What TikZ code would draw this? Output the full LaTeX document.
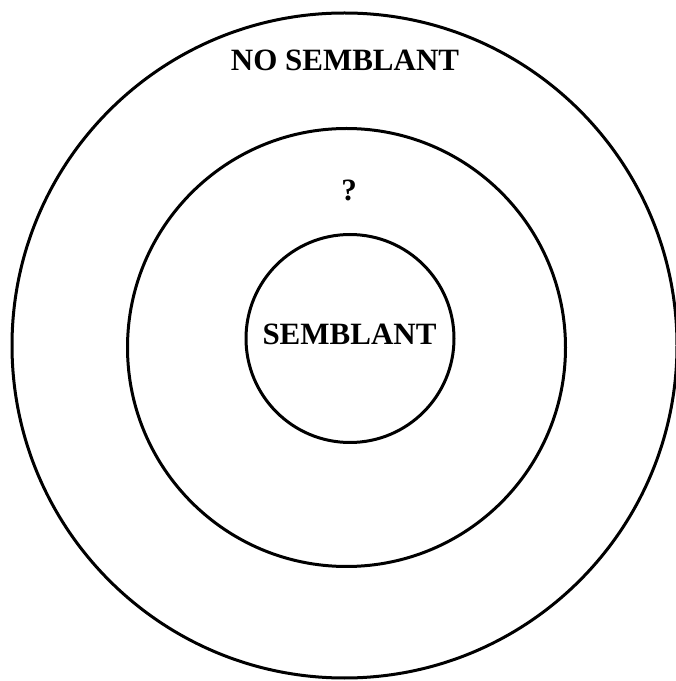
\documentclass[tikz,border=0pt]{standalone}
\usepackage{fontspec}
\setmainfont{Liberation Serif}
\begin{document}
\begin{tikzpicture}[x=1pt,y=1pt,
  ring/.style={circle,draw=black,line width=3pt,inner sep=0pt,outer sep=0pt},
  lbl/.style={font=\fontsize{31}{36}\selectfont\bfseries,inner sep=0pt,anchor=base}]
\useasboundingbox (0,0) rectangle (676,681);
\fill[white] (0,0) rectangle (676,681);
\node[ring,minimum size=665pt] (outer) at (344.5,335.5) {};
\node[ring,minimum size=438pt] (middle) at (346.5,333.5) {};
\node[ring,minimum size=208pt] (inner) at (350,342.5) {};
\node[lbl] (nosem) at (345,610.3) {NO SEMBLANT};
\node[lbl] (q) at (349,480) {?};
\node[lbl] (sem) at (349.5,336) {SEMBLANT};
\end{tikzpicture}
\end{document}
